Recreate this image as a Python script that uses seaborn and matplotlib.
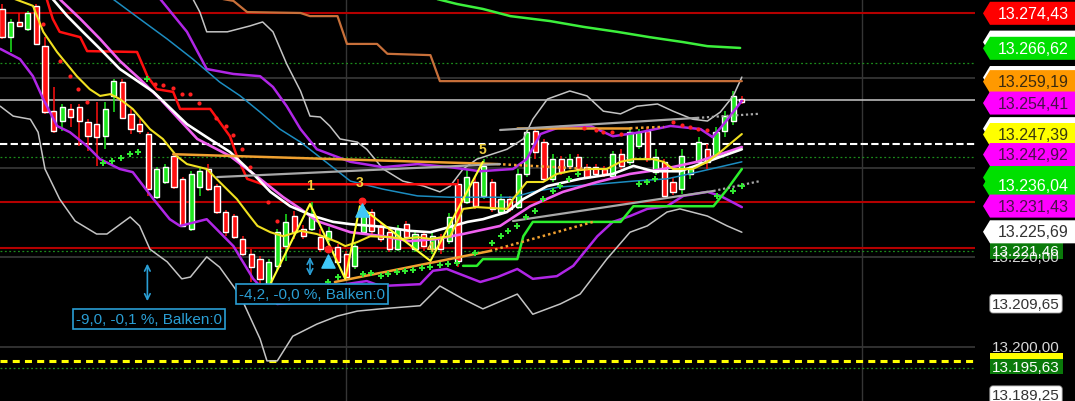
import pandas as pd
import seaborn as sns
import matplotlib.pyplot as plt
from matplotlib.patches import Polygon

sns.set_style('dark')
plt.rcParams['font.family'] = ['Liberation Sans', 'DejaVu Sans']

# candles (one per bar)
opens = [13275.4, 13269.1, 13272.5, 13270.9, 13276.0, 13267.1, 13252.6, 13250.4, 13253.1, 13253.5,
         13250.2, 13249.7, 13247.0, 13256.0, 13259.1, 13252.0, 13249.7, 13247.5, 13233.4, 13236.8,
         13242.6, 13237.5, 13226.3, 13235.7, 13239.7, 13235.9, 13230.1, 13229.2, 13224.1, 13220.7,
         13219.6, 13213.6, 13218.1, 13222.5, 13229.2, 13226.3, 13226.3, 13224.5, 13224.1, 13222.3,
         13220.7, 13218.1, 13225.6, 13230.1, 13227.0, 13225.6, 13221.8, 13227.4, 13221.8, 13225.2,
         13221.8, 13224.5, 13223.6, 13236.3, 13232.3, 13236.8, 13233.7, 13236.8, 13230.1, 13233.0,
         13231.2, 13238.6, 13248.2, 13245.7, 13237.5, 13241.9, 13240.4, 13242.4, 13240.1, 13240.1,
         13239.7, 13238.1, 13243.0, 13241.3, 13244.8, 13248.2, 13239.0, 13241.3, 13236.8, 13235.2,
         13238.6, 13241.3, 13244.1, 13242.6, 13248.2, 13250.4, 13255.3]
closes = [13269.1, 13272.5, 13271.6, 13274.5, 13267.6, 13252.4, 13248.2, 13253.5, 13251.3, 13250.4,
          13247.0, 13246.8, 13253.1, 13259.3, 13251.1, 13248.6, 13248.2, 13235.2, 13239.7, 13240.1,
          13235.7, 13227.0, 13238.6, 13239.2, 13235.2, 13230.1, 13225.6, 13224.5, 13220.7, 13217.8,
          13215.2, 13219.0, 13225.6, 13227.9, 13225.6, 13224.7, 13229.7, 13221.8, 13225.9, 13219.0,
          13215.6, 13222.5, 13230.3, 13225.9, 13224.1, 13221.8, 13226.3, 13224.5, 13225.2, 13222.5,
          13224.7, 13221.8, 13229.0, 13219.2, 13237.9, 13231.4, 13240.4, 13230.8, 13233.0, 13230.8,
          13238.6, 13247.9, 13243.5, 13237.5, 13241.9, 13239.0, 13241.9, 13239.7, 13237.9, 13238.6,
          13238.6, 13243.0, 13240.4, 13247.9, 13247.9, 13241.9, 13242.4, 13233.7, 13234.6, 13242.6,
          13239.7, 13245.7, 13241.3, 13247.9, 13251.5, 13256.0, 13254.6]
highs = [13276.5, 13273.1, 13274.5, 13274.9, 13276.5, 13269.1, 13258.0, 13254.2, 13254.2, 13254.2,
         13250.8, 13254.6, 13254.6, 13259.8, 13259.8, 13253.1, 13250.8, 13247.9, 13240.1, 13240.8,
         13243.0, 13237.9, 13239.2, 13240.1, 13240.8, 13236.3, 13230.5, 13229.7, 13224.7, 13221.8,
         13220.3, 13219.6, 13226.3, 13229.7, 13230.3, 13227.2, 13232.3, 13226.3, 13226.8, 13223.0,
         13221.4, 13223.2, 13231.9, 13230.8, 13227.6, 13226.3, 13227.2, 13228.1, 13225.9, 13225.9,
         13225.4, 13225.2, 13229.9, 13237.5, 13239.7, 13237.9, 13241.9, 13237.5, 13234.1, 13233.7,
         13239.7, 13248.6, 13249.1, 13246.4, 13243.0, 13242.6, 13243.0, 13243.0, 13240.8, 13240.8,
         13240.4, 13243.7, 13244.1, 13249.1, 13248.6, 13249.1, 13244.1, 13241.9, 13237.9, 13244.1,
         13240.4, 13246.8, 13245.3, 13249.1, 13252.6, 13257.1, 13256.0]
lows = [13268.7, 13265.8, 13271.4, 13270.5, 13267.3, 13252.0, 13247.7, 13248.2, 13249.1, 13244.8,
        13243.7, 13240.4, 13244.1, 13252.4, 13250.8, 13247.5, 13247.5, 13233.7, 13233.0, 13236.3,
        13235.2, 13226.8, 13225.9, 13233.7, 13234.8, 13229.7, 13224.7, 13224.1, 13220.3, 13214.5,
        13214.0, 13212.9, 13217.0, 13219.2, 13224.1, 13224.1, 13225.9, 13221.2, 13223.4, 13218.3,
        13215.2, 13217.4, 13225.2, 13225.2, 13223.4, 13221.2, 13221.4, 13223.6, 13221.2, 13221.4,
        13220.7, 13220.7, 13223.0, 13217.8, 13231.9, 13230.8, 13233.0, 13230.1, 13229.4, 13230.1,
        13230.8, 13237.9, 13241.9, 13236.8, 13236.8, 13238.4, 13239.7, 13238.6, 13237.5, 13237.9,
        13237.9, 13237.5, 13239.7, 13240.6, 13244.1, 13241.3, 13238.4, 13233.0, 13233.9, 13234.1,
        13237.5, 13240.8, 13239.7, 13241.9, 13246.8, 13249.5, 13254.2]

# indicator lines (bar index, price)
yellow_x = [1.5, 3.6, 4.8, 6.4, 8.7, 10.2, 11.4, 12.6, 13.7, 15.2, 17.2, 18.7, 20.3, 21.5, 23.8, 25.3, 27.3,
            28.8, 29.7, 31.2, 32.7, 34.7, 36.6, 39.0, 39.9, 41.3, 42.8, 45.1, 46.6, 48.3, 49.8, 52.1, 53.6,
            55.2, 58.7, 59.4, 61.0, 62.9, 64.5, 66.0, 68.4, 70.3, 71.9, 73.4, 75.7, 76.9, 78.0, 80.3, 82.0,
            83.5, 86.0]
yellow_y = [13277.6, 13276.1, 13270.3, 13265.8, 13260.4, 13257.5, 13256.0, 13256.4, 13255.3, 13253.1, 13248.6,
            13246.4, 13242.6, 13240.8, 13239.7, 13236.8, 13233.0, 13229.2, 13227.0, 13225.6, 13224.7, 13225.9,
            13225.2, 13223.4, 13222.5, 13223.4, 13224.7, 13224.5, 13224.1, 13224.5, 13224.1, 13224.7, 13230.8,
            13231.2, 13230.8, 13233.0, 13236.8, 13236.8, 13238.6, 13239.2, 13239.7, 13239.7, 13241.3, 13241.9,
            13241.9, 13241.3, 13239.7, 13239.7, 13241.3, 13243.5, 13247.5]
white_x = [5.9, 7.6, 9.4, 11.4, 13.7, 17.6, 21.5, 23.8, 26.5, 29.2, 31.2, 33.5, 36.2, 38.5, 40.5, 44.3, 47.4,
           49.8, 52.1, 54.1, 55.9, 58.7, 60.6, 63.4, 67.2, 71.0, 73.4, 75.7, 78.8, 81.2, 83.5, 86.0]
white_y = [13277.6, 13273.8, 13270.3, 13266.5, 13262.0, 13256.9, 13249.7, 13246.8, 13243.5, 13238.6, 13234.6,
           13231.4, 13229.2, 13227.9, 13227.4, 13226.8, 13225.9, 13225.6, 13226.8, 13227.9, 13228.5, 13230.1,
           13233.0, 13235.9, 13237.5, 13238.6, 13240.4, 13239.2, 13239.2, 13240.8, 13242.4, 13244.1]
pink_x = [6.7, 9.1, 11.4, 13.7, 16.0, 18.4, 22.7, 26.5, 30.0, 32.7, 34.7, 36.6, 40.5, 44.3, 47.4, 50.6, 53.6,
          57.9, 61.4, 65.2, 69.2, 73.0, 76.9, 80.8, 83.5, 86.0]
pink_y = [13277.6, 13273.2, 13268.7, 13263.8, 13259.8, 13255.3, 13246.4, 13242.6, 13237.5, 13233.4, 13230.8,
          13228.1, 13225.6, 13224.7, 13223.6, 13224.1, 13225.2, 13227.0, 13231.4, 13234.6, 13236.8, 13238.6,
          13239.7, 13241.3, 13243.0, 13244.6]
blue_x = [12.9, 16.0, 19.2, 22.2, 25.3, 27.7, 30.0, 32.3, 34.7, 40.5, 44.3, 48.3, 52.1, 55.9, 59.4, 61.7,
          64.9, 69.2, 73.4, 77.3, 80.8, 86.0]
blue_y = [13277.6, 13273.2, 13268.7, 13264.2, 13259.1, 13256.0, 13252.4, 13248.6, 13245.7, 13237.0, 13235.2,
          13233.7, 13233.4, 13233.4, 13233.4, 13234.6, 13235.7, 13236.3, 13237.0, 13237.5, 13239.0, 13241.3]
band_up_x = [18.4, 21.5, 23.8, 26.9, 30.0, 31.5, 33.1, 34.7, 36.6, 40.5, 44.3, 48.3, 52.1, 55.6, 59.4, 61.0,
             62.6, 64.9, 68.4, 71.0, 74.2, 77.7, 81.2, 82.6, 84.1, 86.0]
band_up_y = [13277.6, 13270.3, 13262.0, 13260.9, 13260.4, 13258.0, 13253.7, 13248.6, 13244.1, 13241.3, 13240.1,
             13240.8, 13240.1, 13239.2, 13239.7, 13241.9, 13247.5, 13249.1, 13249.3, 13247.0, 13247.9, 13249.3,
             13248.6, 13246.8, 13250.2, 13254.9]
band_lo_x = [-0.2, 2.1, 3.6, 4.8, 6.4, 7.9, 9.9, 11.4, 13.7, 15.2, 17.6, 19.5, 20.7, 23.8, 26.9, 29.2, 32.0,
             34.7, 38.5, 42.4, 44.0, 48.6, 50.1, 51.7, 55.6, 57.6, 59.9, 61.7, 64.5, 66.4, 69.2, 71.0, 73.0,
             75.0, 77.3, 79.2, 82.0, 83.5, 86.0]
band_lo_y = [13266.5, 13264.2, 13260.4, 13255.3, 13249.3, 13247.9, 13244.8, 13241.9, 13239.7, 13239.0, 13233.0,
             13228.5, 13227.0, 13228.5, 13222.5, 13215.2, 13209.6, 13210.0, 13213.6, 13214.7, 13213.6, 13214.0,
             13217.0, 13217.4, 13214.5, 13215.6, 13217.4, 13215.2, 13215.8, 13218.1, 13224.7, 13227.9, 13229.2,
             13230.8, 13231.4, 13233.7, 13234.6, 13233.7, 13231.2]
bb_up_x = [22.2, 23.0, 23.8, 26.2, 28.8, 30.3, 31.5, 33.1, 34.7, 35.8, 37.0, 38.1, 39.3, 41.3, 42.4, 44.3,
           46.6, 49.0, 50.9, 52.1, 53.6, 55.2, 58.7, 60.6, 61.7, 63.4, 66.0, 68.0, 69.9, 71.9, 73.8, 76.2,
           78.0, 80.3, 82.0, 83.5, 85.0, 86.0]
bb_up_y = [13277.6, 13274.7, 13270.3, 13270.3, 13271.6, 13272.5, 13270.3, 13263.1, 13257.1, 13251.5, 13251.3,
           13249.3, 13246.4, 13245.7, 13244.1, 13239.7, 13237.0, 13235.9, 13234.6, 13235.9, 13239.7, 13241.9,
           13244.1, 13246.4, 13250.8, 13255.3, 13257.1, 13256.0, 13252.6, 13252.0, 13253.7, 13254.2, 13252.6,
           13250.8, 13250.4, 13252.4, 13256.0, 13260.2]
bb_lo_x = [-0.2, 1.3, 3.3, 4.2, 5.0, 6.7, 8.5, 11.0, 12.2, 14.9, 16.0, 17.2, 19.2, 20.9, 21.9, 23.8, 25.3,
           27.7, 30.0, 30.8, 32.0, 33.8, 36.6, 39.0, 41.3, 44.0, 48.6, 50.9, 53.6, 55.9, 59.9, 61.7, 64.9,
           67.2, 70.3, 73.0, 75.0, 77.3, 78.8, 82.0, 84.3, 86.0]
bb_lo_y = [13253.7, 13251.5, 13250.8, 13247.9, 13239.7, 13233.0, 13228.1, 13225.2, 13225.2, 13229.0, 13227.0,
           13221.8, 13219.0, 13215.2, 13215.6, 13220.1, 13217.8, 13211.4, 13201.8, 13196.9, 13196.9, 13202.4,
           13205.1, 13206.9, 13208.0, 13208.5, 13209.2, 13213.6, 13210.7, 13208.5, 13211.8, 13207.3, 13209.6,
           13211.8, 13219.6, 13225.6, 13227.0, 13230.1, 13230.8, 13229.2, 13227.0, 13225.6]
red_step_x = [5.2, 5.9, 6.7, 9.1, 9.9, 15.7, 16.9, 18.0, 19.9, 20.7, 24.2, 26.5, 27.3, 28.5, 30.3, 52.9]
red_step_y = [13277.6, 13273.2, 13270.3, 13269.1, 13266.0, 13265.8, 13260.4, 13257.5, 13256.9, 13253.1,
              13253.1, 13247.0, 13242.6, 13237.5, 13236.3, 13236.3]
green_step_x = [53.6, 55.2, 55.9, 59.9, 60.6, 61.7, 71.9, 73.4, 82.7, 84.3, 86.0]
green_step_y = [13218.1, 13218.1, 13219.6, 13219.6, 13224.7, 13227.9, 13227.9, 13231.4, 13231.4, 13235.2, 13239.7]
brown_x = [25.7, 26.9, 28.5, 34.7, 35.8, 39.0, 40.1, 43.6, 44.8, 49.8, 50.9, 86.0]
brown_y = [13277.6, 13277.2, 13274.7, 13274.5, 13273.8, 13273.8, 13267.6, 13267.6, 13265.4, 13265.1, 13259.3, 13259.3]
long_ma_x = [50.6, 52.9, 55.9, 59.1, 63.7, 67.6, 71.5, 75.3, 79.2, 82.0, 85.8]
long_ma_y = [13277.6, 13276.5, 13275.4, 13273.8, 13272.7, 13271.4, 13270.3, 13269.1, 13268.0, 13267.1, 13266.7]

# trend lines: (x0, y0, x1, y1)
orange_mid = [19.9, 13243.0, 57.6, 13240.8]
orange_mid_ext = [57.6, 13240.8, 68.4, 13239.7]
orange_top = [59.9, 13248.8, 73.0, 13248.8]
orange_top_ext = [73.0, 13248.8, 76.9, 13249.1]
orange_low = [38.7, 13214.5, 56.7, 13221.4]
orange_low_ext = [56.7, 13221.4, 68.7, 13227.9]
gray_mid = [25.0, 13237.9, 57.9, 13240.8]
gray_top = [57.9, 13248.4, 80.8, 13251.1]
gray_top_ext = [80.8, 13251.1, 87.9, 13252.0]
gray_low = [59.4, 13228.1, 82.7, 13234.8]
gray_low_ext = [82.7, 13234.8, 88.1, 13237.0]

# zigzag waves
zig_x = [30.9, 35.8, 39.9, 41.6, 49.8, 55.9]
zig_y = [13212.9, 13231.9, 13215.2, 13231.4, 13219.2, 13241.3]
wave_labels = ['1', '3', '4', '5']
wave_x = [35.8, 41.6, 49.8, 55.9]
wave_y = [13234.6, 13235.2, 13220.7, 13242.6]

# SAR dots
sar_red_x = [4.8, 6.7, 7.9, 8.8, 9.9, 17.8, 18.7, 19.9, 20.9, 21.9, 22.9, 24.9, 26.0, 26.9, 27.9, 28.8,
             30.9, 32.0, 67.6, 69.0, 69.9, 70.9, 71.9, 78.0, 79.1, 80.0, 80.9, 82.0]
sar_red_y = [13272.0, 13263.8, 13260.4, 13257.5, 13254.6, 13258.7, 13258.4, 13257.8, 13256.4, 13256.4, 13254.4,
             13251.1, 13249.3, 13247.3, 13244.1, 13240.1, 13232.3, 13228.1, 13248.8, 13248.4, 13247.9, 13247.9,
             13247.5, 13250.2, 13249.5, 13249.1, 13248.6, 13248.4]
sar_green_x = [11.7, 12.8, 13.8, 14.9, 15.8, 16.9, 37.9, 39.0, 42.0, 42.9, 44.0, 44.9, 45.9, 46.9, 47.8,
               48.8, 49.8, 50.9, 51.9, 52.9, 55.0, 57.0, 58.0, 58.8, 59.9, 60.9, 62.0, 62.9, 64.0, 64.9,
               65.9, 67.0, 74.0, 75.0, 75.9, 83.1, 85.0, 86.0]
sar_green_y = [13241.0, 13241.5, 13242.2, 13243.0, 13243.5, 13259.8, 13214.5, 13215.6, 13216.3, 13216.5,
               13215.8, 13216.3, 13216.7, 13216.9, 13217.2, 13217.6, 13217.8, 13218.3, 13218.5, 13218.7,
               13220.9, 13223.2, 13224.7, 13225.9, 13227.0, 13229.0, 13230.3, 13233.0, 13234.8, 13235.9,
               13237.5, 13238.6, 13236.3, 13236.8, 13237.5, 13233.7, 13234.8, 13235.9]
signal_x = [37.9, 41.9]
signal_dot_y = [13221.8, 13232.5]
signal_tri_y = [13219.2, 13230.5]

# horizontal levels
red_levels = [13274.43, 13232.3, 13222.1]
green_dotted_levels = [13263.3, 13242.4, 13221.4, 13195.4]
grid_levels = [13260, 13240, 13220, 13200]
grid_bars = [40, 100]

# measurement boxes: text, box centre, arrow x, arrow from, arrow to
measure_text = ['-9,0, -0,1 %, Balken:0', '-4,2, -0,0 %, Balken:0']
measure_x = [17.05, 36.0]
measure_y = [13206.3, 13211.8]
arrow_x = [16.9, 35.8]
arrow_top = [13219.2, 13220.7]
arrow_bottom = [13209.6, 13215.2]

# price tags on the right: price, text, background, text colour, style
tag_price = [13220.00, 13200.00, 13197.0, 13195.63, 13189.25, 13209.65, 13221.46,
             13274.43, 13268.0, 13266.62, 13260.1, 13259.19, 13254.41, 13248.7, 13247.39, 13242.92,
             13237.8, 13236.04, 13231.43, 13225.69]
tag_text = ['13.220,00', '13.200,00', '', '13.195,63', '13.189,25', '13.209,65', '13.221,46',
            '13.274,43', '', '13.266,62', '', '13.259,19', '13.254,41', '', '13.247,39', '13.242,92',
            '', '13.236,04', '13.231,43', '13.225,69']
tag_bg = ['none', 'none', '#ffff00', '#0a7a0a', 'white', 'white', '#0a7a0a',
          '#ff0000', 'white', '#00e000', 'white', '#ff9900', '#ff00ff', 'white', '#ffff00', '#ff00ff',
          '#00e000', '#00e000', '#ff00ff', 'white']
tag_fg = ['#d8d8d8', '#d8d8d8', '#333333', 'white', '#333333', '#333333', 'white',
          'white', '#333333', 'white', '#333333', '#3a2a10', '#4a104a', '#333333', '#3a3a10', '#4a104a',
          'white', 'white', '#4a104a', '#333333']
tag_kind = ['plain', 'plain', 'rect', 'rect', 'round', 'round', 'rect',
            'arrow', 'arrow', 'arrow', 'arrow', 'arrow', 'arrow', 'arrow', 'arrow', 'arrow',
            'arrow', 'arrow', 'arrow', 'arrow']

candles = pd.DataFrame({'open': opens, 'close': closes, 'high': highs, 'low': lows})
candles['bar'] = range(len(candles))
candles['color'] = ['#1ee81e' if c >= o else '#ff1010' for o, c in zip(opens, closes)]

y_lo, y_hi = 13187.95, 13277.62
fig = plt.figure(figsize=(10.75, 4.02), dpi=100, facecolor='black')
ax = fig.add_axes([0, 0, 975 / 1075, 1])
ax_r = fig.add_axes([975 / 1075, 0, 100 / 1075, 1])
for a in (ax, ax_r):
    a.set_facecolor('black')
    a.set_ylim(y_lo, y_hi)
    a.set_xticks([])
    a.set_yticks([])
    for s in a.spines.values():
        s.set_visible(False)
ax.set_xlim(-0.23, 113.1)
ax_r.set_xlim(0, 100)

# background levels
for lv in grid_levels:
    ax.axhline(lv, color='#353535', lw=1.3, zorder=0)
for b in grid_bars:
    ax.axvline(b, color='#353535', lw=1.0, zorder=0)
for lv in green_dotted_levels:
    ax.axhline(lv, color='#1c8c1c', lw=0.9, ls=(0, (1.5, 2)), zorder=1)
for lv in red_levels:
    ax.axhline(lv, color='#b40000', lw=1.5, zorder=1)
ax.axhline(13255.1, color='#c8c8c8', lw=1.1, zorder=1)
ax.axhline(13245.3, color='white', lw=1.5, dashes=(3.5, 1.6), zorder=1)
ax.axhline(13196.9, color='#ffff00', lw=2.2, dashes=(2.3, 1.7), zorder=1)

# candles
ax.vlines(candles.bar, candles.low, candles.high, colors=candles.color, lw=1.1, zorder=2)
ax.bar(candles.bar, candles.close - candles.open, bottom=candles.open, width=0.6,
       color=candles.color, zorder=2)


def line(xs, ys, color, lw, z=3):
    sns.lineplot(x=xs, y=ys, ax=ax, color=color, lw=lw, sort=False, estimator=None, zorder=z)


def seg(s, color, lw, dotted=False, z=3):
    ls = (0, (1, 1.2)) if dotted else '-'
    ax.plot([s[0], s[2]], [s[1], s[3]], color=color, lw=lw, ls=ls, zorder=z)


line(bb_up_x, bb_up_y, '#c4c4c4', 1.1)
line(bb_lo_x, bb_lo_y, '#c4c4c4', 1.1)
line(band_up_x, band_up_y, '#b026e6', 1.8)
line(band_lo_x, band_lo_y, '#b026e6', 1.8)
line(blue_x, blue_y, '#1c8cc0', 1.1)
line(brown_x, brown_y, '#c8703a', 1.6)
line(long_ma_x, long_ma_y, '#3cf03c', 1.8)
line(red_step_x, red_step_y, '#ff1010', 1.8)
line(green_step_x, green_step_y, '#2cf02c', 1.8)
line(pink_x, pink_y, '#f060f0', 1.9)
line(white_x, white_y, 'white', 1.9)
line(yellow_x, yellow_y, '#f0e020', 1.5)

seg(orange_mid, '#f0a030', 1.8)
seg(orange_mid_ext, '#f0a030', 1.8, dotted=True)
seg(orange_top, '#f0a030', 1.8)
seg(orange_top_ext, '#f0a030', 1.8, dotted=True)
seg(orange_low, '#f0a030', 1.8)
seg(orange_low_ext, '#f0a030', 1.8, dotted=True)
seg(gray_mid, '#a8a8a8', 1.6)
seg(gray_top, '#a8a8a8', 1.6)
seg(gray_top_ext, '#a8a8a8', 1.6, dotted=True)
seg(gray_low, '#a8a8a8', 1.6)
seg(gray_low_ext, '#a8a8a8', 1.6, dotted=True)

sns.scatterplot(x=sar_red_x, y=sar_red_y, ax=ax, color='#ff2020', s=9, linewidth=0, zorder=4)
sns.scatterplot(x=sar_green_x, y=sar_green_y, ax=ax, color='#30e830', marker='P', s=14, linewidth=0, zorder=4)

line(zig_x, zig_y, '#ffff30', 1.5, z=5)
for t, x, y in zip(wave_labels, wave_x, wave_y):
    ax.text(x, y, t, color='#f0d040', fontsize=10, fontweight='bold', ha='center', va='bottom', zorder=6)
ax.scatter(signal_x, signal_dot_y, color='#ff2020', s=22, zorder=6)
ax.scatter(signal_x, signal_tri_y, color='#40c8f8', marker='^', s=90, zorder=6)

for t, x, y, ax_x, a0, a1 in zip(measure_text, measure_x, measure_y, arrow_x, arrow_top, arrow_bottom):
    ax.annotate('', xy=(ax_x, a0), xytext=(ax_x, a1),
                arrowprops=dict(arrowstyle='<->', color='#2a9ed4', lw=1.2), zorder=6)
    ax.text(x, y, t, color='#2a9ed4', fontsize=11, ha='center', va='center', zorder=7,
            bbox=dict(boxstyle='square,pad=0.2', fc='black', ec='#2a9ed4', lw=1.2))

# right price tags
for p, t, bg, fg, kind in zip(tag_price, tag_text, tag_bg, tag_fg, tag_kind):
    if kind == 'arrow':
        h = 2.57
        ax_r.add_patch(Polygon([(8, p), (15, p + h), (100, p + h), (100, p - h), (15, p - h)],
                               closed=True, fc=bg, ec='none'))
        ax_r.text(58, p, t, color=fg, fontsize=11.5, ha='center', va='center')
    elif kind == 'rect':
        h = 1.75
        ax_r.add_patch(Polygon([(15, p + h), (88, p + h), (88, p - h), (15, p - h)],
                               closed=True, fc=bg, ec='none'))
        ax_r.text(51, p, t, color=fg, fontsize=11, ha='center', va='center')
    elif kind == 'round':
        ax_r.text(51, p, t, color=fg, fontsize=11, ha='center', va='center',
                  bbox=dict(boxstyle='round,pad=0.15,rounding_size=0.2', fc=bg, ec='#999999', lw=0.6))
    else:
        ax_r.text(51, p, t, color=fg, fontsize=11, ha='center', va='center')

fig.savefig('out.png', dpi=100, facecolor='black')
